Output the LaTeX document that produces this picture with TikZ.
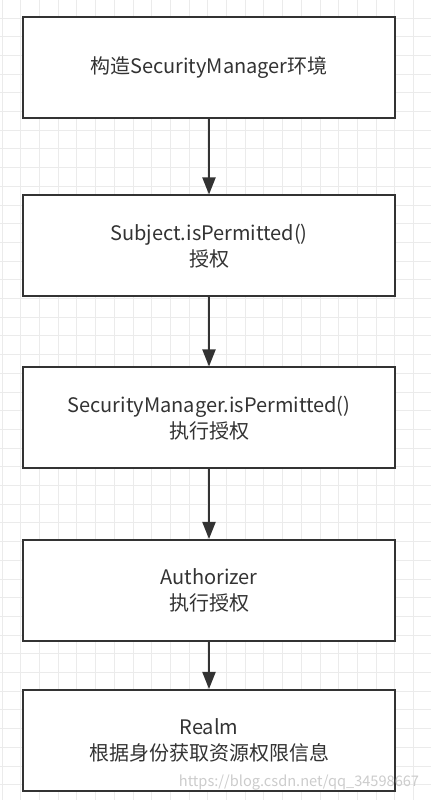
\documentclass[tikz,border=0pt]{standalone}
\usepackage{fontspec}
\setmainfont{Noto Sans CJK SC}
\usepackage{tikz}
\usetikzlibrary{positioning,arrows.meta}

\definecolor{ink}{HTML}{333333}
\definecolor{gridgray}{HTML}{EBEBEB}

\tikzset{
  box/.style={draw=ink,line width=2pt,fill=white,minimum width=372pt,minimum height=101pt,
    align=center,text=ink,font=\fontsize{20}{26}\selectfont},
  gridline/.style={gridgray,line width=0.8pt}
}

\begin{document}
\begin{tikzpicture}[x=1pt,y=1pt,node distance=172pt,on grid,auto]
  \useasboundingbox[fill=white] (0,0) rectangle (431,800);
  % background grid
  \foreach \i in {0,...,22} \draw[gridline] ({2+18.7*\i},0) -- ({2+18.7*\i},800);
  \foreach \j in {0,...,43} \draw[gridline] (0,{800.7-18.7*\j}) -- (431,{800.7-18.7*\j});

  \node[box] (b0) at (209,732) {构造SecurityManager环境};
  \node[box] (b1) [below = 178pt of b0] {Subject.isPermitted()\\授权};
  \node[box] (b2) [below = of b1] {SecurityManager.isPermitted()\\执行授权};
  \node[box] (b3) [below = 172.5pt of b2] {Authorizer\\执行授权};
  \node[box] (b4) [below = 150pt of b3] {Realm\\根据身份获取资源权限信息};
  \node[text=gray!40,font=\fontsize{14.6}{14.6}\selectfont,inner sep=0pt] (wm) at (299,17) {https://blog.csdn.net/qq\_34598667};

  \path[-{Triangle[length=17pt,width=13pt]},draw=ink,fill=ink,line width=2pt]
  (b0) edge [] (b1)
  (b1) edge [] (b2)
  (b2) edge [] (b3)
  (b3) edge [] (b4)
  ;
\end{tikzpicture}
\end{document}
